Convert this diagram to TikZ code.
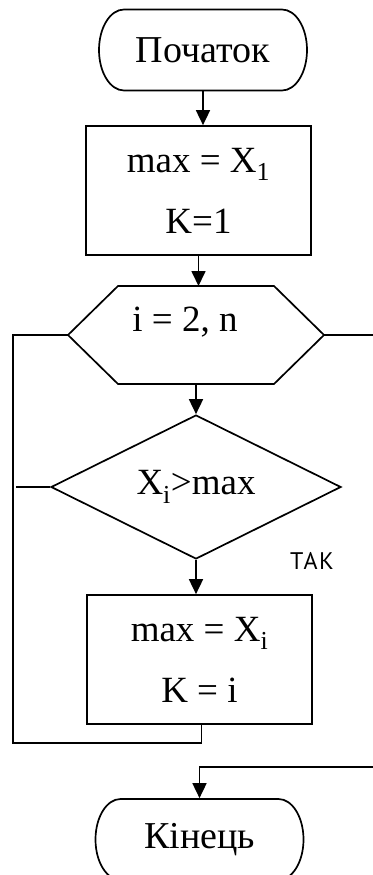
\documentclass[tikz,border=0pt]{standalone}
\usepackage{fontspec}
\setmainfont{Liberation Serif}
\newfontfamily\takfont[LetterSpace=7]{PT Sans}
\usetikzlibrary{arrows.meta,shapes.geometric}
\newcommand\stadium[2]{%
  \draw ({#1-79},{#2-40.5}) -- ({#1+79},{#2-40.5})
    .. controls ({#1+92.8},{#2-40.5}) and ({#1+104},{#2-22.4}) .. ({#1+104},{#2})
    .. controls ({#1+104},{#2+22.4}) and ({#1+92.8},{#2+40.5}) .. ({#1+79},{#2+40.5})
    -- ({#1-79},{#2+40.5})
    .. controls ({#1-92.8},{#2+40.5}) and ({#1-104},{#2+22.4}) .. ({#1-104},{#2})
    .. controls ({#1-104},{#2-22.4}) and ({#1-92.8},{#2-40.5}) .. ({#1-79},{#2-40.5}) -- cycle;}
\begin{document}
\begin{tikzpicture}[x=1pt,y=-1pt,line width=1.7pt,
  arr/.style={-{Triangle[length=15pt,width=14pt]}},
  lbl/.style={inner sep=0pt,font=\fontsize{37}{40}\selectfont},
  term/.style={minimum width=208pt,minimum height=81pt,inner sep=0pt,font=\fontsize{38}{40}\selectfont},
  proc/.style={draw,minimum width=225pt,minimum height=129pt,inner sep=0pt,align=center,font=\fontsize{37}{61}\selectfont},
  dec/.style={draw,diamond,aspect=2,minimum width=290pt,minimum height=144pt,inner sep=0pt,font=\fontsize{37}{40}\selectfont},
  ]
\useasboundingbox (0,0) rectangle (372,875);
% start
\node[term] (start) at (203,50) {Початок};
\stadium{203}{50}
% process 1
\node[proc] (box1) at (198.5,190.5) {max = X\textsubscript{1}\\K=1};
% hexagon (loop)
\coordinate (hw) at (68,335);
\coordinate (he) at (324,335);
\coordinate (hn) at (196,286);
\coordinate (hs) at (196,384);
\draw (hw) -- (118,286) -- (274,286) -- (he) -- (274,384) -- (118,384) -- cycle;
\node[lbl] (hex) at (185,322) {i = 2, n};
% decision
\node[dec] (dia) at (196,487) {X\textsubscript{i}>max};
\node[font=\takfont\fontsize{24}{26}\selectfont,inner sep=0pt] (tak) at (312,561) {ТАК};
% process 2
\node[proc] (box2) at (199.5,659.5) {max = X\textsubscript{i}\\K = i};
% end
\node[term] (end) at (199.5,839.5) {Кінець};
\stadium{199.5}{839.5}
% helper coordinates
\coordinate (lx) at (13,743);
\coordinate (dn) at (16,487);
\coordinate (ex) at (380,767);
% connectors
\draw[arr] (start.south) -- (start.south |- box1.north);
\draw[arr] (box1.south) -- (box1.south |- hn);
\draw[arr] (hs) -- (dia.north);
\draw[arr] (dia.south) -- (dia.south |- box2.north);
\draw ([xshift=2pt]box2.south) |- (lx) |- (hw);
\draw (dia.west) -- (dn);
\draw[arr] (he) -| (ex) -| (end.north);
\end{tikzpicture}
\end{document}
